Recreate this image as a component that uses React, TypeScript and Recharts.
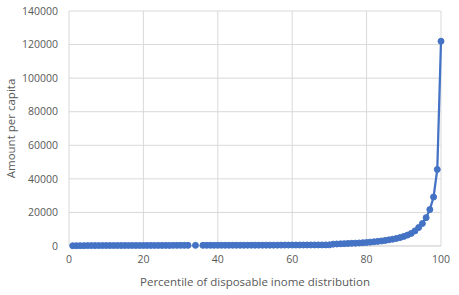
import React from "react";
import { LineChart, Line, XAxis, YAxis, CartesianGrid } from "recharts";

// Percentile of the disposable income distribution (1..100)
const percentiles: number[] = [
  1, 2, 3, 4, 5, 6, 7, 8, 9, 10,
  11, 12, 13, 14, 15, 16, 17, 18, 19, 20,
  21, 22, 23, 24, 25, 26, 27, 28, 29, 30,
  31, 32, 33, 34, 35, 36, 37, 38, 39, 40,
  41, 42, 43, 44, 45, 46, 47, 48, 49, 50,
  51, 52, 53, 54, 55, 56, 57, 58, 59, 60,
  61, 62, 63, 64, 65, 66, 67, 68, 69, 70,
  71, 72, 73, 74, 75, 76, 77, 78, 79, 80,
  81, 82, 83, 84, 85, 86, 87, 88, 89, 90,
  91, 92, 93, 94, 95, 96, 97, 98, 99, 100,
];

// Amount per capita for each percentile (null = no data)
const amounts: (number | null)[] = [
  150, 180, 200, 220, 230, 240, 250, 260, 270, 280,
  290, 295, 300, 305, 310, 315, 320, 325, 330, 335,
  340, 345, 350, 355, 360, 365, 370, 375, 380, 385,
  390, 395, null, 400, null, 410, 415, 420, 425, 430,
  435, 440, 445, 450, 455, 460, 465, 470, 475, 480,
  485, 490, 495, 500, 510, 520, 530, 540, 550, 560,
  570, 580, 590, 600, 610, 620, 630, 640, 660, 680,
  1100, 1200, 1300, 1400, 1500, 1600, 1700, 1800, 1950, 2100,
  2300, 2500, 2750, 3000, 3300, 3650, 4050, 4500, 5000, 5700,
  6500, 7500, 9000, 11000, 13400, 16900, 21700, 29200, 45600, 122000,
];

const xTicks = [0, 20, 40, 60, 80, 100];
const yTicks = [0, 20000, 40000, 60000, 80000, 100000, 120000, 140000];

const data = percentiles.map((p, i) => ({ p, amount: amounts[i] }));

const FONT = "'Open Sans', 'Noto Sans', sans-serif";
const TEXT = "#595959";
const GRID = "#d9d9d9";
const BLUE = "#4472c4";

export default function App() {
  return (
    <div style={{ position: "absolute", left: 0, top: 0, width: 459, height: 295, background: "#fff" }}>
      <LineChart
        width={459}
        height={295}
        data={data}
        margin={{ top: 11, right: 18, bottom: 0, left: 0 }}
        style={{ fontFamily: FONT }}
      >
        <CartesianGrid stroke={GRID} strokeWidth={1} />
        <XAxis
          dataKey="p"
          type="number"
          domain={[0, 100]}
          ticks={xTicks}
          height={49}
          axisLine={{ stroke: GRID }}
          tickLine={false}
          tickSize={0}
          tickMargin={10}
          tick={{ fill: TEXT, fontSize: 10.5, fontFamily: FONT }}
          label={{
            value: "Percentile of disposable inome distribution",
            position: "insideBottom",
            offset: 9,
            fill: TEXT,
            fontSize: 11.5,
            fontFamily: FONT,
          }}
        />
        <YAxis
          type="number"
          domain={[0, 140000]}
          ticks={yTicks}
          width={69}
          axisLine={false}
          tickLine={false}
          tickSize={0}
          tickMargin={11}
          interval={0}
          tick={{ fill: TEXT, fontSize: 10.5, fontFamily: FONT }}
          label={{
            value: "Amount per capita",
            angle: -90,
            position: "insideLeft",
            offset: 11,
            fill: TEXT,
            fontSize: 11.5,
            fontFamily: FONT,
            style: { textAnchor: "middle" },
          }}
        />
        <Line
          type="linear"
          dataKey="amount"
          stroke={BLUE}
          strokeWidth={2.25}
          dot={{ r: 3, fill: BLUE, stroke: BLUE, strokeWidth: 1 }}
          connectNulls={false}
          isAnimationActive={false}
        />
      </LineChart>
    </div>
  );
}
